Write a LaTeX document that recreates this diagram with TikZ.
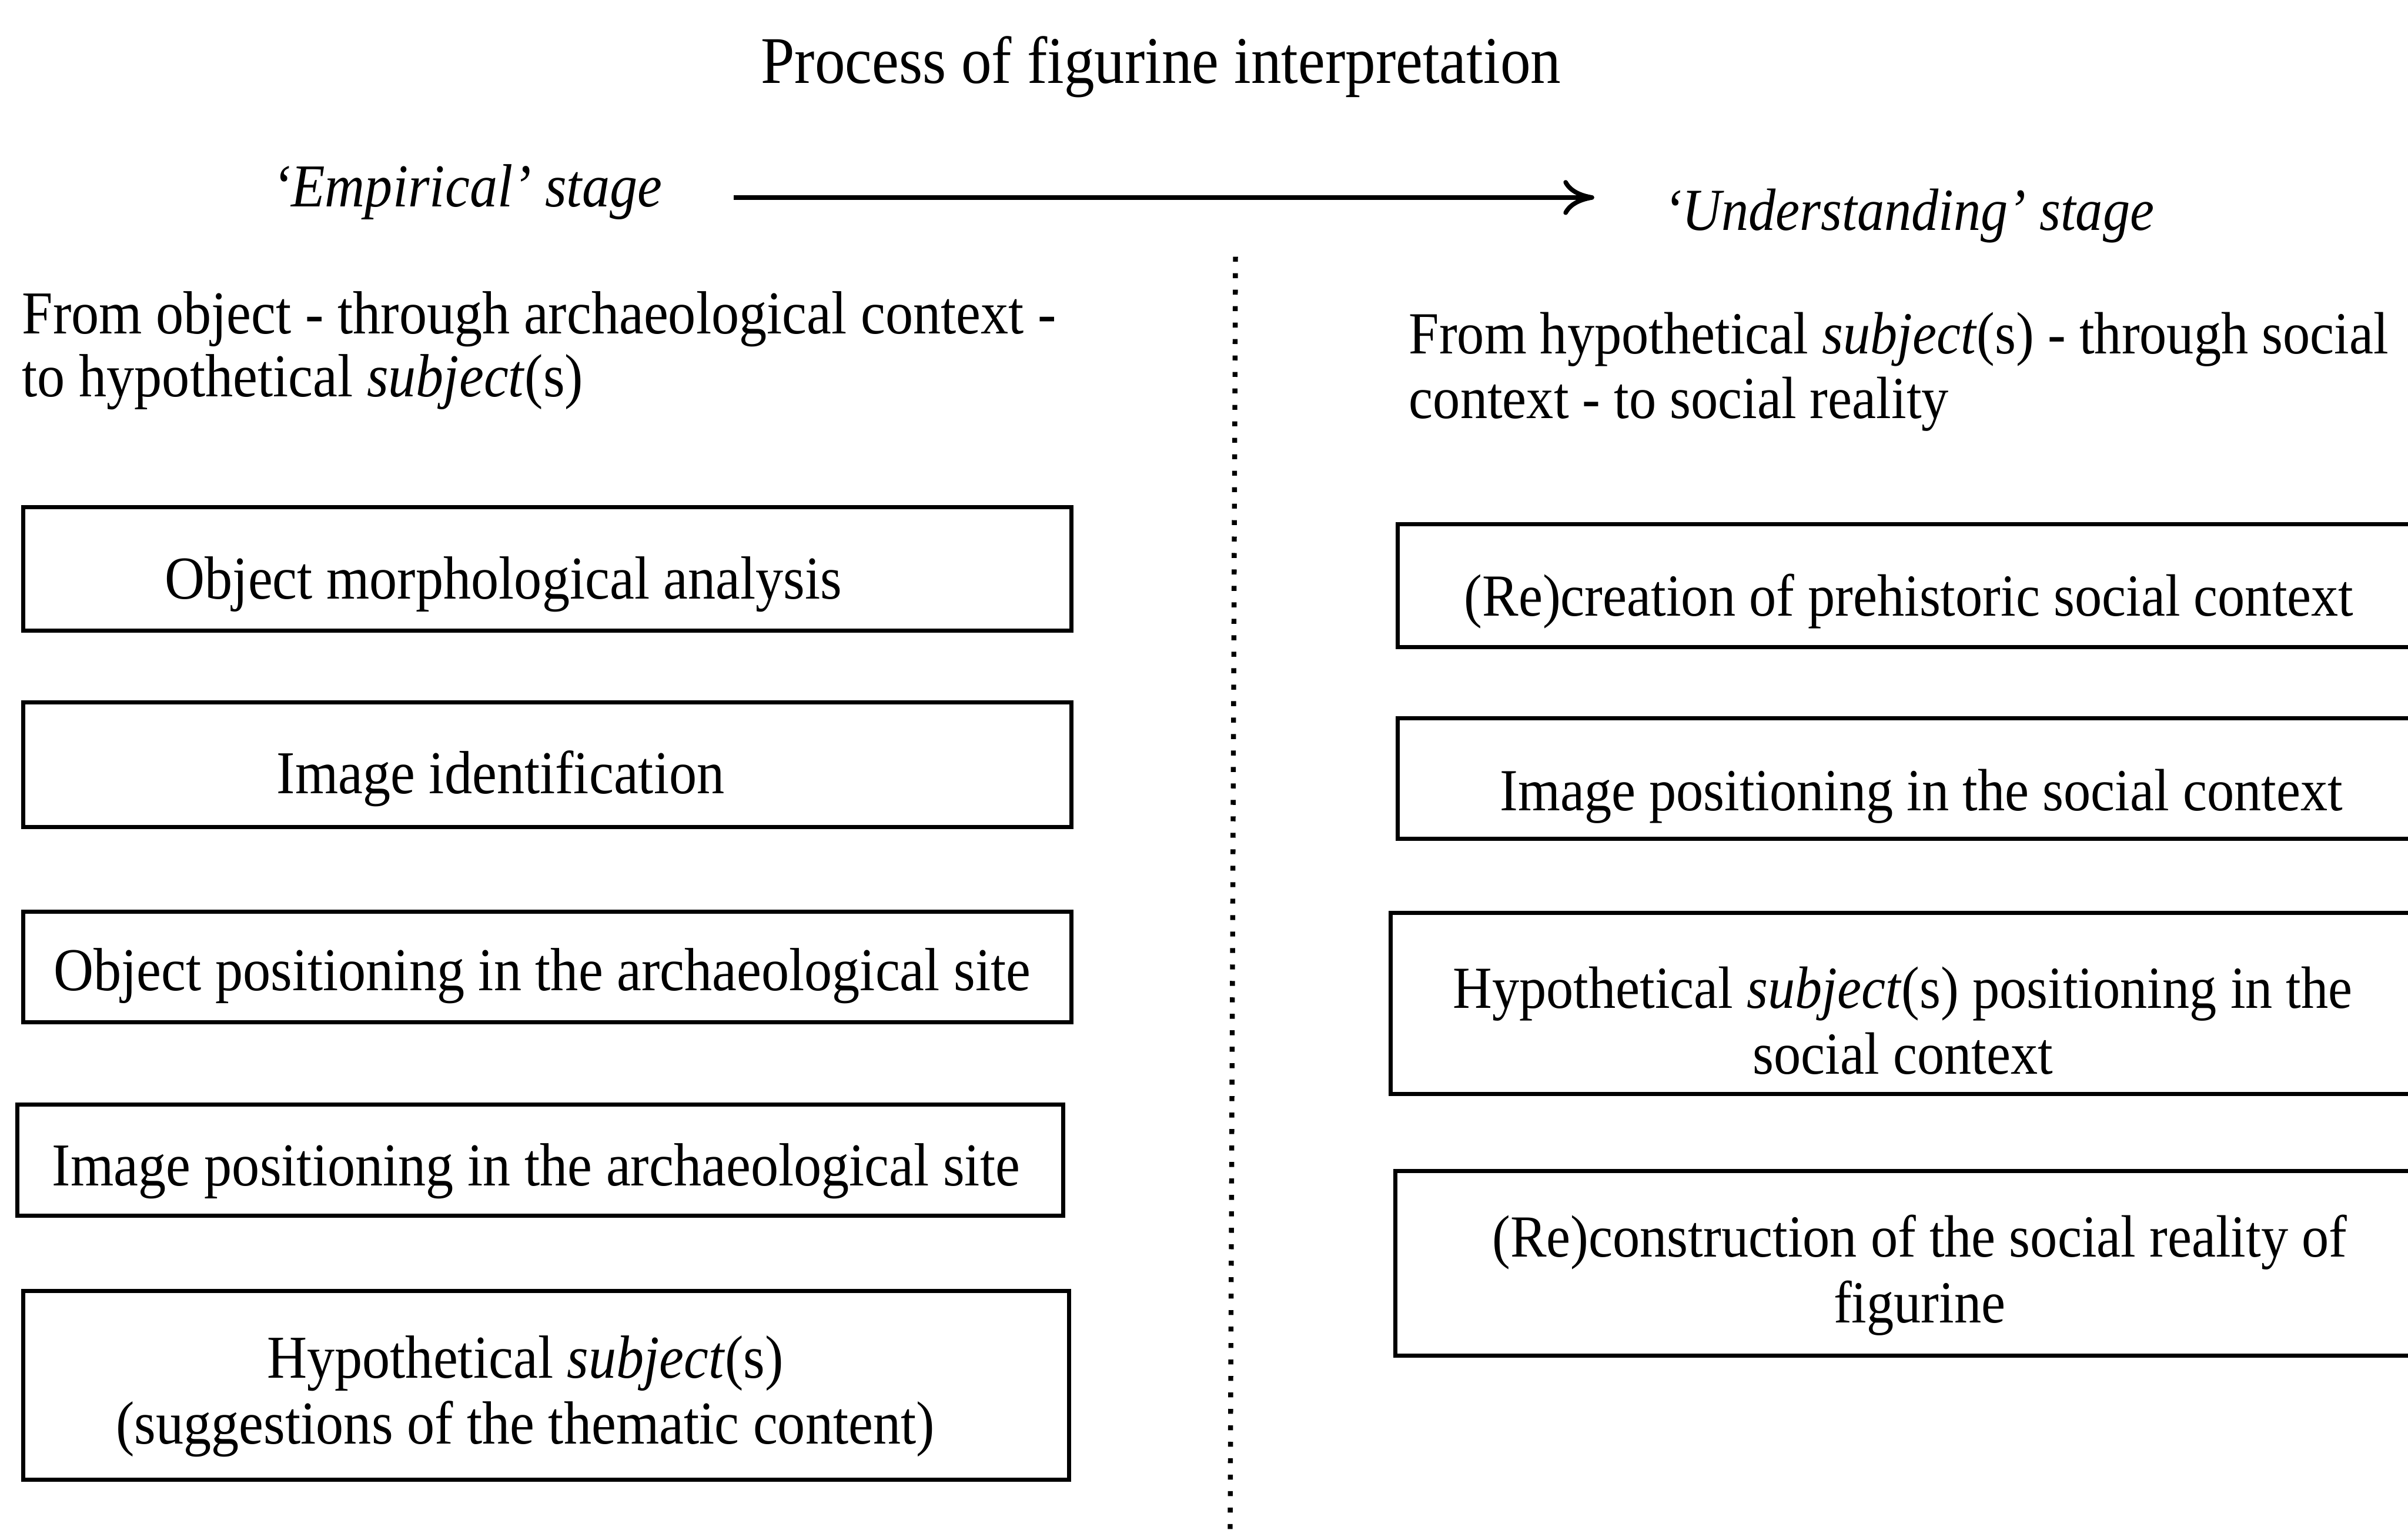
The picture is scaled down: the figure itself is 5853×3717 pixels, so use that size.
\documentclass[tikz,border=0pt]{standalone}
\usepackage{fontspec}
\setmainfont{Liberation Serif}[FakeStretch=0.91]
\usetikzlibrary{arrows.meta}

\begin{document}
\begin{tikzpicture}[x=0.1pt,y=-0.1pt,
  box/.style={draw,line width=1pt,inner sep=0pt,anchor=north west},
  txt/.style={inner sep=0pt,align=center,font=\fontsize{14.8pt}{16pt}\selectfont},
  rtxt/.style={txt,font=\fontsize{14.5pt}{16pt}\selectfont},
  para/.style={inner sep=0pt,align=left,anchor=west,font=\fontsize{14.8pt}{15.2pt}\selectfont},
  rpara/.style={para,font=\fontsize{14.5pt}{15.7pt}\selectfont},
  stage/.style={inner sep=0pt,anchor=west,font=\fontsize{14.8pt}{16pt}\selectfont\itshape},
  rstage/.style={stage,font=\fontsize{14.5pt}{16pt}\selectfont\itshape},
  title/.style={inner sep=0pt,font=\fontsize{16.2pt}{18pt}\selectfont}]
\useasboundingbox (0,0) rectangle (5853,3717);
\clip (0,0) rectangle (5853,3717);

% heading and direction of the process
\node[title] (title) at (2822,162) {Process of figurine interpretation};
\node[stage] (emp) at (661,467) {‘Empirical’ stage};
\node[rstage] (und) at (4043,524) {‘Understanding’ stage};
\coordinate (arrA) at (1784,480);
\coordinate (arrB) at (3875,480);
\draw[line width=1.1pt,-{Computer Modern Rightarrow[length=7.5pt,width=8.5pt]}] (arrA) -- (arrB);

% dotted divider between the two stages
\coordinate (divTop) at (3003,624);
\coordinate (divBot) at (2990,3717);
\draw[line width=1.2pt,dash pattern=on 1.2pt off 2.8pt] (divTop) -- (divBot);

% stage descriptions
\node[para] (lpar) at (52,852) {From object - through archaeological context -\\to hypothetical \textit{subject}(s)};
\node[rpara] (rpar) at (3423,904) {From hypothetical \textit{subject}(s) - through social\\context - to social reality};

% empirical stage boxes
\node[box,minimum width=254.8pt,minimum height=30pt] (l1) at (52,1228) {};
\node[box,minimum width=254.8pt,minimum height=30.3pt] (l2) at (52,1702) {};
\node[box,minimum width=254.8pt,minimum height=26.9pt] (l3) at (52,2210) {};
\node[box,minimum width=254.3pt,minimum height=26.9pt] (l4) at (37,2680) {};
\node[box,minimum width=254.2pt,minimum height=45.9pt] (l5) at (52,3132) {};

\node[txt] (l1t) at (1224,1420) {Object morphological analysis};
\node[txt] (l2t) at (1217,1892) {Image identification};
\node[txt] (l3t) at (1318,2372) {Object positioning in the archaeological site};
\node[txt] (l4t) at (1303,2846) {Image positioning in the archaeological site};
\node[txt] (l5t) at (1277,3394) {Hypothetical \textit{subject}(s)\\(suggestions of the thematic content)};

% understanding stage boxes (running past the right edge)
\node[box,minimum width=261pt,minimum height=29.9pt] (r1) at (3392,1269) {};
\node[box,minimum width=261pt,minimum height=29.4pt] (r2) at (3392,1740) {};
\node[box,minimum width=262.5pt,minimum height=44pt] (r3) at (3375,2214) {};
\node[box,minimum width=261.4pt,minimum height=44.8pt] (r4) at (3386,2841) {};

\node[rtxt] (r1t) at (4640,1461) {(Re)creation of prehistoric social context};
\node[rtxt] (r2t) at (4670,1935) {Image positioning in the social context};
\node[rtxt] (r3t) at (4625,2480) {Hypothetical \textit{subject}(s) positioning in the\\social context};
\node[rtxt] (r4t) at (4666,3099) {(Re)construction of the social reality of\\figurine};
\end{tikzpicture}
\end{document}
